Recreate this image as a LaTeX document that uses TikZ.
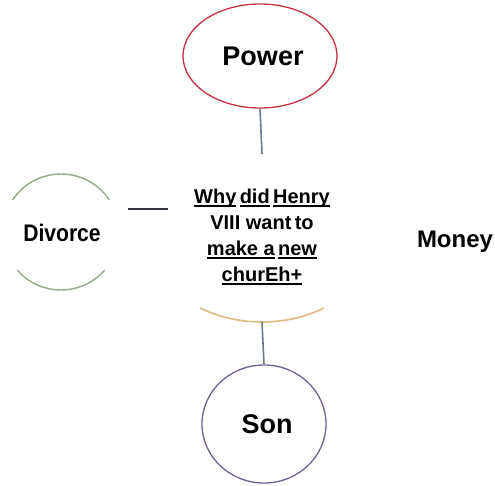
\documentclass[tikz,border=0pt]{standalone}
\usepackage{fontspec}
\setmainfont{Liberation Sans}
\usetikzlibrary{shapes.geometric}
\definecolor{powerred}{RGB}{200,50,65}
\definecolor{linkblue}{RGB}{105,125,145}
\definecolor{sonpurple}{RGB}{115,95,145}
\definecolor{divgreen}{RGB}{145,170,135}
\definecolor{hubtan}{RGB}{222,185,130}
\definecolor{darkline}{RGB}{55,55,65}
\newcommand\myul[1]{\setbox0\hbox{#1}\rlap{\raisebox{-3.8pt}{\rule{\wd0}{1.8pt}}}\box0}
\begin{document}
\begin{tikzpicture}[x=1pt,y=1pt,
  bubble/.style={ellipse,inner sep=0pt,line width=1.3pt,font=\bfseries\fontsize{27}{30}\selectfont},
  link/.style={line width=1.6pt,color=linkblue},
  plain/.style={font=\bfseries\fontsize{24}{28}\selectfont,inner sep=0pt}]
\useasboundingbox (0,0) rectangle (495,485);
\fill[white] (0,0) rectangle (495,485);
% hub (only its lower arc is visible)
\node[ellipse,minimum width=224pt,minimum height=168pt,inner sep=0pt] (hub) at (262,247) {};
\draw[hubtan,line width=1.6pt] (262,247) ++(-123.6:112pt and 84pt) arc[start angle=-123.6,end angle=-56.4,x radius=112pt,y radius=84pt];
\node[align=center,inner sep=0pt,font=\bfseries\fontsize{20}{26}\selectfont] (q) at (262,248)
  {\myul{Why}\,\myul{did}\,\myul{Henry}\\VIII want\,to\\\myul{make a}\,\myul{new}\\\myul{churEh+}};
% Power
\node[bubble,draw=powerred,minimum width=154pt,minimum height=104pt] (power) at (260,429) {\hspace{6pt}Power};
% Son
\node[bubble,draw=sonpurple,minimum width=124pt,minimum height=118pt] (son) at (264,61) {\hspace{6pt}Son};
% Divorce (partial circle)
\draw[divgreen,line width=1.4pt] (61,253) ++(33.5:58pt) arc[start angle=33.5,end angle=146.5,radius=58pt];
\draw[divgreen,line width=1.4pt] (61,253) ++(221:58pt) arc[start angle=221,end angle=319,radius=58pt];
\node[plain,font=\bfseries\fontsize{24}{28}\selectfont] (divorce) at (62,252) {\scalebox{0.88}[1]{Divorce}};
% Money
\node[plain] (money) at (455,243) {Money};
% connectors
\draw[link] (power.south) -- (hub.north);
\draw[link] (hub.south) -- (son.north);
\coordinate (dA) at (128,276);
\coordinate (dB) at (168,276);
\draw[darkline,line width=1.6pt] (dA) -- (dB);
\end{tikzpicture}
\end{document}
